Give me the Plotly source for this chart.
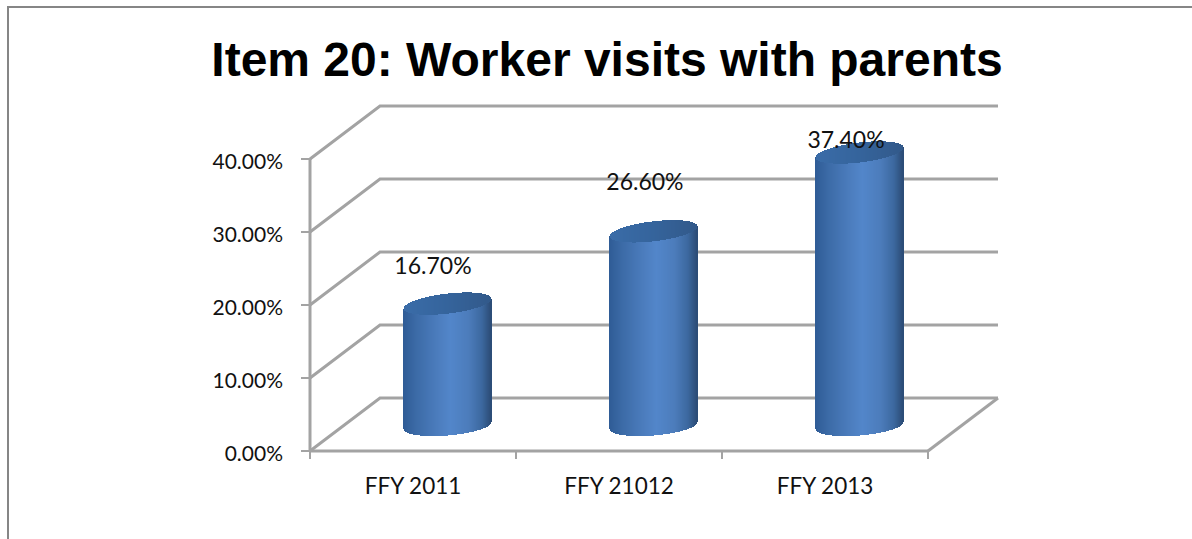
import numpy as np
import plotly.graph_objects as go

# ---- data ----
categories = ["FFY 2011", "FFY 21012", "FFY 2013"]
values = [16.7, 26.6, 37.4]
value_labels = ["16.70%", "26.60%", "37.40%"]
y_ticks = [0, 10, 20, 30, 40]
y_tick_labels = ["0.00%", "10.00%", "20.00%", "30.00%", "40.00%"]
x_boundaries = [0, 1, 2, 3]
title_text = "Item 20: Worker visits with parents"

# ---- 3-D look (in axis units) ----
W, H = 1192, 539
PL, PR, PT, PB = 310, 928, 159, 451   # front plane in pixels
PAD = 12                              # plot area margin round the front plane, pixels
PX_X = (PR - PL) / 3
PX_Y = (PB - PT) / 40
DEPTH_X = 70 / PX_X
DEPTH_Y = 53 / PX_Y
XMAX_PX, YTOP_PX = 1004, 100          # plot area extends to hold the back wall
XMIN = -PAD / PX_X
YMIN = -PAD / PX_Y
XMAX = (XMAX_PX - PL) / PX_X
YMAX = (PB - YTOP_PX) / PX_Y
BAR_DX = 0.169
BAR_BASE = (PB - 425.5) / PX_Y
BAR_A = 43.5 / PX_X
CAP_B = 10 / PX_Y
CAP_SHEAR = 5 / PX_Y
FOOT_SHEAR = 3.5 / PX_Y
TICK_X = 9 / PX_X
TICK_Y = 8 / PX_Y
N = 88
LABEL_DX = [0.097, 0.126, 0.102]
LABEL_DY = [8.4, 9.9, 4.9]
GRID = "#a3a3a3"

u = np.linspace(-1, 1, N)
side_stops = [(-1, "#2f5c96"), (-0.7, "#3c6ba7"), (-0.2, "#4c7dbe"), (0.08, "#5286ca"),
              (0.5, "#4c7cbb"), (0.8, "#3c689f"), (1, "#2c4d78")]
cap_stops = [(-1, "#3a6ca8"), (0, "#35649c"), (1, "#32598a")]


def ramp(stops):
    xs = [s[0] for s in stops]
    rgb = [[int(s[1][i:i + 2], 16) for i in (1, 3, 5)] for s in stops]
    out = []
    for t in u:
        c = [np.interp(t, xs, [r[k] for r in rgb]) for k in range(3)]
        out.append("rgb(%d,%d,%d)" % tuple(round(v) for v in c))
    return out


side_cols = ramp(side_stops)
cap_cols = ramp(cap_stops)
round_part = np.sqrt(np.clip(1 - u ** 2, 0, 1))
slice_w = 1.6 / PX_X

fig = go.Figure()


def grid_line(xs, ys, width=3):
    fig.add_trace(go.Scatter(x=xs, y=ys, mode="lines", cliponaxis=False, hoverinfo="skip",
                             showlegend=False, line=dict(color=GRID, width=width)))


# axis lines of the front plane and their tick stubs
grid_line([0, 0], [0, 40])
grid_line([0, 3], [0, 0])
for t in y_ticks:
    grid_line([-TICK_X, 0], [t, t], width=2)
for b in x_boundaries:
    grid_line([b, b], [-TICK_Y, 0], width=2)
# back wall and side wall gridlines
for t in y_ticks:
    grid_line([0, DEPTH_X, 3 + DEPTH_X], [t, t + DEPTH_Y, t + DEPTH_Y])
# floor right edge
grid_line([3, 3 + DEPTH_X], [0, DEPTH_Y])

# cylinders, each made of narrow bar slices on overlaid axes
for i, v in enumerate(values):
    cx = i + 0.5 + BAR_DX
    xs = cx + u * BAR_A
    bottom = BAR_BASE + FOOT_SHEAR * u - CAP_B * round_part
    top = BAR_BASE + v + CAP_SHEAR * u
    fig.add_trace(go.Bar(x=xs, y=top - bottom, base=bottom, width=slice_w, xaxis="x2", yaxis="y2",
                         marker=dict(color=side_cols, line=dict(width=0)), cliponaxis=False,
                         hoverinfo="skip", showlegend=False))
    fig.add_trace(go.Bar(x=xs, y=2 * CAP_B * round_part, base=top - CAP_B * round_part, width=slice_w,
                         xaxis="x2", yaxis="y2",
                         marker=dict(color=cap_cols, line=dict(width=0)), cliponaxis=False,
                         hoverinfo="skip", showlegend=False))

# data labels
fig.add_trace(go.Scatter(
    x=[i + 0.5 + d for i, d in enumerate(LABEL_DX)],
    y=[v + d for v, d in zip(values, LABEL_DY)],
    text=value_labels, mode="text", textposition="middle center", xaxis="x2", yaxis="y2",
    textfont=dict(family="Lato", size=23, color="#111111"), cliponaxis=False,
    hoverinfo="skip", showlegend=False))

axis_off = dict(showline=False, showgrid=False, zeroline=False)
plot_l, plot_b = PL - PAD, PB + PAD
plot_w = XMAX_PX - plot_l
plot_h = plot_b - YTOP_PX
fig.update_layout(
    width=W, height=H, barmode="overlay", bargap=0,
    paper_bgcolor="white", plot_bgcolor="rgba(0,0,0,0)",
    margin=dict(l=plot_l, r=W - XMAX_PX, t=YTOP_PX, b=H - plot_b, pad=0, autoexpand=False),
    title=dict(text=title_text, x=607 / W, xref="container", xanchor="center",
               y=1 - 59 / H, yref="container", yanchor="middle",
               font=dict(family="Liberation Sans", size=48, color="black", weight="bold")),
    xaxis=dict(range=[XMIN, XMAX], tickvals=[0.5, 1.5, 2.5], ticktext=categories, ticks="", ticklabelstandoff=7,
               tickfont=dict(family="Lato", size=22.5, color="#111111"), **axis_off),
    yaxis=dict(range=[YMIN, YMAX], tickvals=y_ticks, ticktext=y_tick_labels, ticks="",
               ticklabelstandoff=14, ticklabelshift=3,
               tickfont=dict(family="Lato", size=21, color="#111111"), **axis_off),
    xaxis2=dict(range=[XMIN, XMAX], overlaying="x", visible=False),
    yaxis2=dict(range=[YMIN, YMAX], overlaying="y", visible=False),
    shapes=[
        dict(type="line", xref="paper", yref="paper", x0=(7 - plot_l) / plot_w, x1=(W - plot_l) / plot_w,
             y0=(plot_b - 7) / plot_h, y1=(plot_b - 7) / plot_h, line=dict(color="#868686", width=2)),
        dict(type="line", xref="paper", yref="paper", x0=(8 - plot_l) / plot_w, x1=(8 - plot_l) / plot_w,
             y0=(plot_b - 7) / plot_h, y1=(plot_b - H) / plot_h, line=dict(color="#868686", width=2)),
    ],
)

fig.write_html("out.html", config={"displayModeBar": False},
               post_script="document.body.style.margin='0';document.body.style.overflow='hidden';")
